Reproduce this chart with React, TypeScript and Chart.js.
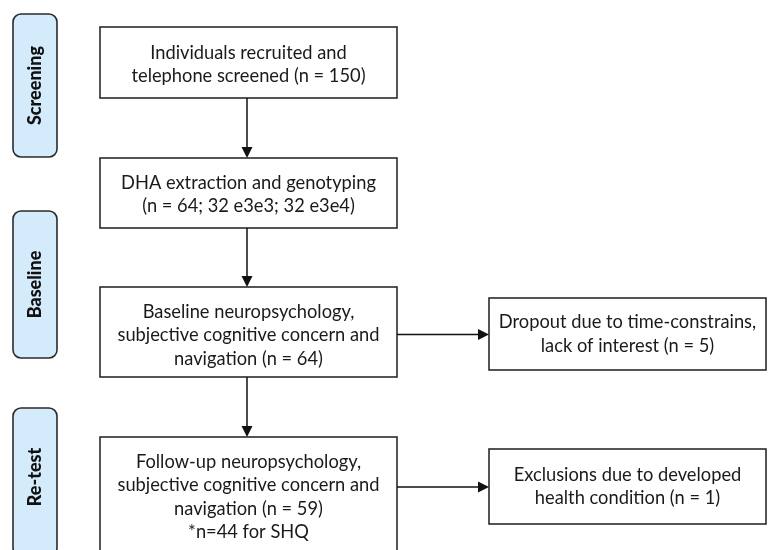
import React, { useEffect, useRef } from "react";
import { Chart, registerables } from "chart.js";

Chart.register(...registerables);

// ---- Data (text content) ----
const stageLabels = ["Screening", "Baseline", "Re-test"];
const mainSteps = [
  ["Individuals recruited and", "telephone screened (n = 150)"],
  ["DHA extraction and genotyping", "(n = 64; 32 e3e3; 32 e3e4)"],
  ["Baseline neuropsychology,", "subjective cognitive concern and", "navigation (n = 64)"],
  ["Follow-up neuropsychology,", "subjective cognitive concern and", "navigation (n = 59)", "*n=44 for SHQ"],
];
const sideSteps = [
  ["Dropout due to time-constrains,", "lack of interest (n = 5)"],
  ["Exclusions due to developed", "health condition (n = 1)"],
];
const sideFrom = [2, 3]; // main step index each side box branches from

// ---- Layout (positions in chart units) ----
const stageBoxes = [
  [13, 14, 57, 157],
  [13, 211, 57, 358],
  [13, 408, 57, 556],
];
const mainBoxes = [
  [100, 27, 397, 98],
  [100, 158, 397, 228],
  [100, 287, 397, 377],
  [100, 437, 397, 562],
];
const mainTextTop = [53, 183, 312, 462];
const sideBoxes = [
  [489, 298, 766, 370],
  [489, 449, 766, 524],
];
const lineGap = 23.5;

const FONT = "Lato, 'Open Sans', sans-serif";

const flowPlugin = {
  id: "flow",
  afterDraw(chart: any) {
    const { ctx, scales } = chart;
    const X = (v: number) => scales.x.getPixelForValue(v);
    const Y = (v: number) => scales.y.getPixelForValue(v);
    ctx.save();
    ctx.fillStyle = "#ffffff";
    ctx.fillRect(0, 0, chart.width, chart.height);

    // stage pills
    stageBoxes.forEach((b, i) => {
      const x0 = X(b[0]), y0 = Y(b[1]), x1 = X(b[2]), y1 = Y(b[3]);
      ctx.beginPath();
      ctx.roundRect(x0, y0, x1 - x0, y1 - y0, 8);
      ctx.fillStyle = "#d3ebfb";
      ctx.fill();
      ctx.lineWidth = 1.6;
      ctx.strokeStyle = "#2b2b2b";
      ctx.stroke();
      ctx.save();
      ctx.translate((x0 + x1) / 2, (y0 + Math.min(y1, Y(550))) / 2 + (i === 2 ? -2 : 0));
      ctx.rotate(-Math.PI / 2);
      ctx.fillStyle = "#111";
      ctx.font = `900 18px ${FONT}`;
      ctx.textAlign = "center";
      ctx.textBaseline = "middle";
      ctx.fillText(stageLabels[i], 0, 0);
      ctx.restore();
    });

    const drawBox = (b: number[], lines: string[], top: number) => {
      const x0 = X(b[0]), y0 = Y(b[1]), x1 = X(b[2]), y1 = Y(b[3]);
      ctx.lineWidth = 1.6;
      ctx.strokeStyle = "#2b2b2b";
      ctx.strokeRect(x0, y0, x1 - x0, y1 - y0);
      ctx.fillStyle = "#1a1a1a";
      ctx.font = `18.3px ${FONT}`;
      ctx.textAlign = "center";
      ctx.textBaseline = "middle";
      lines.forEach((t, k) => ctx.fillText(t, (x0 + x1) / 2, Y(top + k * lineGap)));
    };

    mainBoxes.forEach((b, i) => drawBox(b, mainSteps[i], mainTextTop[i]));
    sideBoxes.forEach((b, i) => {
      const cy = (b[1] + b[3]) / 2;
      const n = sideSteps[i].length;
      drawBox(b, sideSteps[i], cy - ((n - 1) * lineGap) / 2);
    });

    const arrow = (xa: number, ya: number, xb: number, yb: number) => {
      const ang = Math.atan2(yb - ya, xb - xa);
      const L = 11, W = 5.5;
      ctx.strokeStyle = "#111";
      ctx.fillStyle = "#111";
      ctx.lineWidth = 1.5;
      ctx.beginPath();
      ctx.moveTo(xa, ya);
      ctx.lineTo(xb - Math.cos(ang) * L, yb - Math.sin(ang) * L);
      ctx.stroke();
      ctx.beginPath();
      ctx.moveTo(xb, yb);
      ctx.lineTo(xb - Math.cos(ang) * L - Math.sin(ang) * W, yb - Math.sin(ang) * L + Math.cos(ang) * W);
      ctx.lineTo(xb - Math.cos(ang) * L + Math.sin(ang) * W, yb - Math.sin(ang) * L - Math.cos(ang) * W);
      ctx.closePath();
      ctx.fill();
    };

    for (let i = 0; i < mainBoxes.length - 1; i++) {
      const a = mainBoxes[i], b = mainBoxes[i + 1];
      const cx = X(247);
      arrow(cx, Y(a[3]), cx, Y(b[1]));
    }
    sideBoxes.forEach((b, i) => {
      const src = mainBoxes[sideFrom[i]];
      const cy = Y((b[1] + b[3]) / 2) + 0.5;
      arrow(X(src[2]), cy, X(b[0]), cy);
    });
    ctx.restore();
  },
};

export default function App() {
  const ref = useRef<HTMLCanvasElement | null>(null);
  useEffect(() => {
    document.body.style.margin = "0";
    if (!ref.current) return;
    const chart = new Chart(ref.current, {
      type: "scatter",
      data: { datasets: [{ data: [], pointRadius: 0 }] },
      options: {
        animation: false,
        responsive: false,
        maintainAspectRatio: false,
        events: [],
        layout: { padding: 0 },
        plugins: { legend: { display: false }, tooltip: { enabled: false } },
        scales: {
          x: { type: "linear", min: 0, max: 768, display: false },
          y: { type: "linear", min: 0, max: 550, reverse: true, display: false },
        },
      },
      plugins: [flowPlugin],
    });
    return () => chart.destroy();
  }, []);
  return (
    <div style={{ width: 768, height: 550, background: "#fff" }}>
      <canvas ref={ref} width={768} height={550} style={{ display: "block" }} />
    </div>
  );
}
